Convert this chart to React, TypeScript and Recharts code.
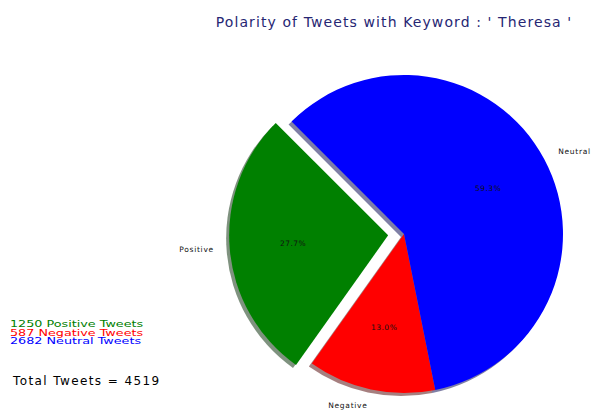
import { PieChart, Pie, Cell } from 'recharts';

const labels = ['Positive', 'Negative', 'Neutral'];
const counts = [1250, 587, 2682];
const legendText = ['Positive Tweets', 'Negative Tweets', 'Neutral Tweets'];
const explode = [0.1, 0, 0];

const colors = ['#008000', '#ff0000', '#0000ff'];
// matplotlib-style shadow: 0.3 * face colour, half transparent
const shadowColors = ['#002600', '#4d0000', '#00004d'];

const data = labels.map((name, i) => ({ name, value: counts[i] }));
const total = counts.reduce((a, b) => a + b, 0);

const CX = 399;
const CY = 229;
const R = 159;
const START = 135;
const RADIAN = Math.PI / 180;
const SHADOW_DX = -3;
const SHADOW_DY = 3;

// mid angle of each slice, used for the explode offset
const midAngles = counts.map((v, i) => {
  const before = counts.slice(0, i).reduce((a, b) => a + b, 0);
  return START + ((before + v / 2) / total) * 360;
});

function makeLabel(visible: number[]) {
  return (props: any) => {
    const { cx, cy, midAngle, outerRadius, percent, index } = props;
    if (!visible.includes(index)) return null;
    const cos = Math.cos(-midAngle * RADIAN);
    const sin = Math.sin(-midAngle * RADIAN);
    const ox = cx + outerRadius * 1.1 * cos;
    const oy = cy + outerRadius * 1.1 * sin;
    const ix = cx + outerRadius * 0.6 * cos;
    const iy = cy + outerRadius * 0.6 * sin;
    return (
      <g key={`lbl-${index}`}>
        <text
          x={ox}
          y={oy}
          fontSize={7.5}
          letterSpacing={0.7}
          fill="#111"
          textAnchor={Math.abs(cos) < 0.2 ? 'middle' : cos > 0 ? 'start' : 'end'}
          dominantBaseline="central"
        >
          {labels[index]}
        </text>
        <text x={ix} y={iy} fontSize={7.5} letterSpacing={0.5} fill="#111" textAnchor="middle" dominantBaseline="central">
          {(percent * 100).toFixed(1)}%
        </text>
      </g>
    );
  };
}

export default function App() {
  const mainIdx = counts.map((_, i) => i).filter((i) => explode[i] === 0);
  const explodedIdx = counts.map((_, i) => i).filter((i) => explode[i] > 0);

  const pies: { key: string; cx: number; cy: number; show: number[] }[] = [
    { key: 'main', cx: CX, cy: CY, show: mainIdx },
    ...explodedIdx.map((i) => ({
      key: `ex-${i}`,
      cx: CX + explode[i] * R * Math.cos(midAngles[i] * RADIAN),
      cy: CY - explode[i] * R * Math.sin(midAngles[i] * RADIAN),
      show: [i],
    })),
  ];

  return (
    <div style={{ position: 'absolute', left: 0, top: 0, width: 592, height: 413, background: '#fff', fontFamily: '"DejaVu Sans", sans-serif' }}>
      <PieChart width={592} height={413}>
        {pies.map((p) => (
          <Pie
            key={`sh-${p.key}`}
            data={data}
            dataKey="value"
            nameKey="name"
            cx={p.cx + SHADOW_DX}
            cy={p.cy + SHADOW_DY}
            outerRadius={R}
            startAngle={START}
            endAngle={START + 360}
            stroke="none"
            isAnimationActive={false}
          >
            {data.map((d, i) => (
              <Cell key={d.name} fill={p.show.includes(i) ? shadowColors[i] : 'none'} fillOpacity={0.5} />
            ))}
          </Pie>
        ))}
        {pies.map((p) => (
          <Pie
            key={p.key}
            data={data}
            dataKey="value"
            nameKey="name"
            cx={p.cx}
            cy={p.cy}
            outerRadius={R}
            startAngle={START}
            endAngle={START + 360}
            stroke="none"
            labelLine={false}
            label={makeLabel(p.show)}
            isAnimationActive={false}
          >
            {data.map((d, i) => (
              <Cell key={d.name} fill={p.show.includes(i) ? colors[i] : 'none'} />
            ))}
          </Pie>
        ))}
      </PieChart>
      <div
        style={{
          position: 'absolute',
          left: 0,
          top: 14,
          width: 592,
          paddingLeft: 196,
          boxSizing: 'border-box',
          textAlign: 'center',
          fontSize: 14,
          letterSpacing: 1.1,
          color: '#262673',
          whiteSpace: 'nowrap',
        }}
      >
        Polarity of Tweets with Keyword : ' Theresa '
      </div>
      <div
        style={{
          position: 'absolute',
          left: 10,
          top: 320,
          fontSize: 8.5,
          lineHeight: '8.5px',
          transform: 'scaleX(1.5)',
          transformOrigin: 'left top',
          whiteSpace: 'nowrap',
        }}
      >
        {counts.map((c, i) => (
          <div key={labels[i]} style={{ color: colors[i] }}>
            {c} {legendText[i]}
          </div>
        ))}
      </div>
      <div style={{ position: 'absolute', left: 13, top: 374, fontSize: 12, letterSpacing: 1.4, color: '#000', whiteSpace: 'nowrap' }}>
        Total Tweets = {total}
      </div>
    </div>
  );
}
